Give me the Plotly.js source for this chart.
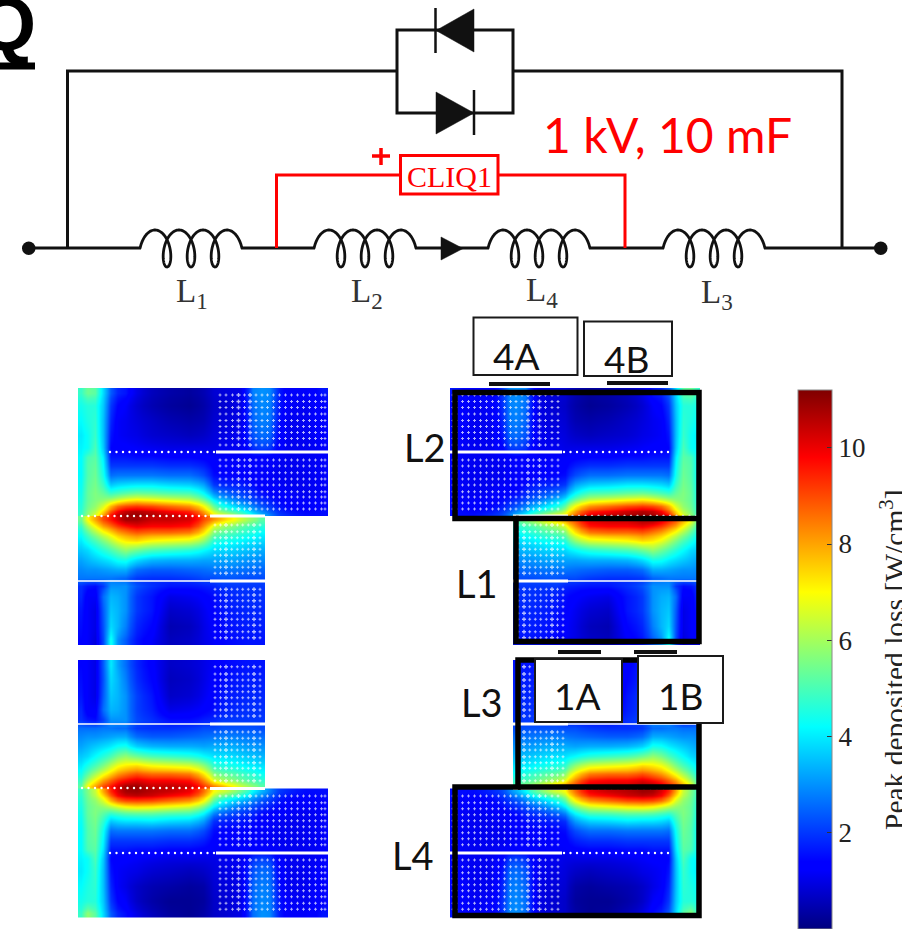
<!DOCTYPE html>
<html><head><meta charset="utf-8">
<script src="https://cdn.plot.ly/plotly-3.0.1.min.js"></script>
<style>html,body{margin:0;padding:0;background:#fff;overflow:hidden}#c{width:902px;height:929px}</style>
</head><body><div id="c"></div>
<script>
// ---- values (W/cm3) ----
const colsWide   = [81,87,95,103,110,117,125,135,150,170,190,205,213,222,244,252,262,270,275,285,305,326];
const colsNarrow = [81,87,95,103,110,117,125,135,150,170,190,205,213,222,232,248,264];
const rowsL2 = [391,405,420,435,449,456,465,475,485,493,500,506,511,514];
const rowsL1 = [520,526,532,540,550,560,570,578,585,595,610,625,643];
const rowsL3 = [662,680,695,710,720,728,736,746,756,766,774,780,786];
const rowsL4 = [792,795,800,806,813,820,830,840,850,856,871,886,901,915];

const heatL2 = [
[4.8,5.4,5.2,3.8,2.4,1.8,1.6,1.0,0.6,0.4,0.3,0.5,0.8,0.9,1.0,2.8,3.0,2.9,2.0,1.2,1.2,1.6],
[4.4,4.6,4.6,3.6,2.0,1.4,1.2,0.8,0.5,0.3,0.2,0.4,0.7,0.8,1.0,2.6,2.9,2.8,1.9,1.2,1.1,1.4],
[4.2,4.5,4.7,3.5,1.8,1.2,1.1,0.9,0.7,0.5,0.4,0.5,0.8,0.9,1.0,2.5,2.8,2.7,1.8,1.1,1.1,1.4],
[4.0,4.3,4.8,3.5,1.6,1.2,1.1,1.0,0.8,0.7,0.6,0.7,0.9,1.0,1.1,2.3,2.6,2.5,1.6,1.1,1.1,1.3],
[4.1,4.3,5.0,3.6,1.4,1.3,1.3,1.2,1.1,1.0,1.0,1.0,1.0,1.1,1.1,1.9,2.1,2.0,1.4,1.1,1.1,1.2],
[4.2,5.0,5.2,4.0,1.6,1.6,1.6,1.5,1.5,1.4,1.4,1.3,1.2,1.2,1.2,1.3,1.3,1.2,1.2,1.1,1.1,1.2],
[4.2,5.1,5.3,4.2,2.0,2.0,2.0,2.0,2.0,1.9,1.9,1.7,1.3,1.2,1.2,1.3,1.2,1.2,1.1,1.1,1.1,1.2],
[4.2,5.1,5.4,4.4,2.6,2.7,2.7,2.7,2.7,2.6,2.6,2.2,1.5,1.4,1.4,1.3,1.2,1.2,1.1,1.1,1.1,1.2],
[4.3,5.2,5.5,4.8,3.6,3.8,3.9,4.0,4.0,3.8,3.7,3.2,2.0,1.8,1.7,1.5,1.3,1.2,1.2,1.1,1.1,1.2],
[4.4,5.3,5.6,5.3,4.8,5.0,5.2,5.4,5.3,5.1,5.0,4.2,3.0,2.5,2.1,1.8,1.5,1.4,1.3,1.2,1.1,1.2],
[4.5,5.3,5.6,5.8,6.2,6.6,7.0,7.3,7.1,6.8,6.5,5.5,4.2,3.4,2.7,2.2,1.9,1.7,1.5,1.3,1.2,1.3],
[4.6,5.4,5.8,6.6,7.8,8.6,9.0,9.2,9.0,8.6,8.2,7.0,5.3,4.3,3.5,2.8,2.3,2.0,1.7,1.4,1.3,1.4],
[4.7,5.6,6.2,7.4,8.8,9.8,10.4,10.6,10.3,9.8,9.4,8.0,6.4,5.4,4.6,3.5,2.9,2.4,2.0,1.6,1.4,1.5],
[4.8,5.8,6.6,8.0,9.6,10.4,10.8,11.0,10.7,10.4,10.0,8.6,7.2,6.6,5.4,4.2,3.4,2.8,2.2,1.8,1.5,1.5]];

const heatL1 = [
[5.4,7.0,8.0,9.0,9.6,10.2,10.8,10.8,10.4,10.4,10.2,9.0,8.2,7.6,7.0,6.0,5.2],
[4.8,6.0,7.0,8.0,8.6,9.2,9.6,10.0,9.8,9.8,9.6,8.2,6.6,6.0,5.6,5.0,4.6],
[4.4,5.2,6.0,6.8,7.4,8.0,8.4,8.8,8.6,8.6,8.4,7.2,5.6,5.2,5.0,4.6,4.2],
[4.0,4.5,5.0,5.6,6.2,6.8,7.2,7.4,7.0,6.8,6.6,5.8,4.6,4.4,4.3,4.0,3.8],
[3.6,3.8,4.2,4.6,5.0,5.4,5.8,5.4,5.0,4.8,4.6,4.2,3.8,3.8,3.7,3.5,3.3],
[3.2,3.4,3.6,3.8,4.0,4.3,4.4,3.8,3.4,3.3,3.3,3.2,3.2,3.2,3.2,3.0,2.9],
[2.9,3.0,3.0,3.1,3.2,3.3,3.3,2.6,2.4,2.4,2.5,2.6,2.7,2.7,2.7,2.6,2.5],
[2.7,2.7,2.7,2.7,2.7,2.6,2.5,2.0,1.9,1.9,2.0,2.2,2.2,2.3,2.3,2.2,2.2],
[1.9,1.6,1.5,2.0,3.0,3.0,3.0,2.3,1.9,1.6,1.6,1.7,1.8,2.0,2.0,2.0,2.0],
[1.8,1.2,1.2,2.6,3.4,3.3,3.0,2.0,1.6,1.0,1.1,1.3,1.5,1.7,1.8,1.9,1.9],
[1.6,1.2,1.0,2.4,3.6,3.4,3.0,2.0,1.6,0.7,0.8,1.1,1.4,1.6,1.7,1.8,1.8],
[1.5,1.2,1.0,2.3,3.8,3.4,2.8,1.8,1.4,0.5,0.6,1.0,1.3,1.5,1.6,1.7,1.7],
[1.4,1.2,0.9,2.2,4.4,3.0,2.4,1.6,1.2,0.6,0.7,1.0,1.2,1.4,1.5,1.6,1.6]];

const heatL3 = [
[1.4,1.2,1.0,2.4,4.0,3.2,2.6,1.8,1.3,0.7,0.8,1.0,1.2,1.4,1.5,1.6,1.6],
[1.5,1.2,1.0,2.3,3.8,3.4,2.8,1.9,1.4,0.6,0.7,1.0,1.3,1.5,1.6,1.7,1.7],
[1.6,1.2,1.0,2.4,3.6,3.4,3.0,2.1,1.6,0.7,0.8,1.1,1.4,1.6,1.7,1.8,1.8],
[1.8,1.2,1.2,2.6,3.4,3.3,3.0,2.1,1.7,1.0,1.1,1.3,1.5,1.7,1.8,1.9,1.9],
[1.9,1.6,1.5,2.1,3.0,3.0,3.0,2.2,1.9,1.5,1.5,1.7,1.8,2.0,2.0,2.0,2.0],
[2.6,2.6,2.6,2.7,2.7,2.6,2.6,2.0,1.9,1.9,2.0,2.2,2.2,2.3,2.3,2.3,2.2],
[2.9,3.0,3.0,3.1,3.2,3.3,3.3,2.6,2.4,2.4,2.5,2.6,2.7,2.8,2.8,2.7,2.6],
[3.2,3.4,3.6,3.8,4.0,4.3,4.4,3.7,3.4,3.3,3.3,3.2,3.3,3.3,3.3,3.1,3.0],
[3.6,3.8,4.2,4.6,5.0,5.5,5.8,5.4,5.0,4.8,4.6,4.2,3.9,3.9,3.8,3.6,3.4],
[4.0,4.5,5.0,5.6,6.3,6.9,7.2,7.4,7.0,6.8,6.6,5.8,4.7,4.5,4.4,4.1,3.9],
[4.4,5.2,6.0,6.8,7.5,8.1,8.5,8.9,8.6,8.6,8.4,7.2,5.7,5.3,5.1,4.7,4.3],
[4.8,6.0,7.0,8.0,8.7,9.3,9.7,10.1,9.8,9.8,9.6,8.3,6.7,6.1,5.7,5.1,4.7],
[5.2,7.0,8.0,9.0,9.6,10.2,10.8,10.9,10.4,10.5,10.3,9.2,8.4,7.8,7.0,6.0,5.2]];

const heatL4 = [
[4.8,5.6,6.4,8.0,9.4,10.2,10.8,10.9,10.6,10.4,10.0,8.6,7.0,6.4,5.4,4.2,3.4,2.8,2.2,1.8,1.5,1.5],
[4.7,5.5,6.2,7.4,8.8,9.8,10.3,10.5,10.3,9.8,9.4,8.0,6.2,5.3,4.5,3.5,2.9,2.4,2.0,1.6,1.4,1.5],
[4.6,5.4,5.8,6.6,7.8,8.6,9.0,9.1,9.0,8.6,8.2,7.0,5.2,4.2,3.4,2.8,2.3,2.0,1.7,1.4,1.3,1.4],
[4.5,5.3,5.6,5.8,6.2,6.6,7.0,7.2,7.1,6.8,6.5,5.5,4.1,3.3,2.6,2.2,1.9,1.7,1.5,1.3,1.2,1.3],
[4.4,5.3,5.6,5.2,4.8,5.0,5.2,5.3,5.3,5.1,5.0,4.2,2.9,2.4,2.0,1.8,1.5,1.4,1.3,1.2,1.1,1.2],
[4.3,5.2,5.5,4.7,3.6,3.8,3.9,3.9,4.0,3.8,3.7,3.1,1.9,1.7,1.6,1.5,1.3,1.2,1.2,1.1,1.1,1.2],
[4.2,5.1,5.4,4.3,2.6,2.7,2.7,2.7,2.7,2.6,2.6,2.2,1.5,1.4,1.4,1.3,1.2,1.2,1.1,1.1,1.1,1.2],
[4.2,5.1,5.3,4.1,2.0,2.0,2.0,2.0,2.0,1.9,1.9,1.7,1.3,1.2,1.2,1.3,1.2,1.2,1.1,1.1,1.1,1.2],
[4.2,5.0,5.2,3.9,1.6,1.6,1.6,1.5,1.5,1.4,1.4,1.3,1.2,1.2,1.2,1.3,1.3,1.2,1.2,1.1,1.1,1.2],
[4.1,4.3,5.0,3.6,1.4,1.3,1.3,1.2,1.1,1.0,1.0,1.0,1.0,1.1,1.1,1.9,2.1,2.0,1.4,1.1,1.1,1.2],
[4.0,4.3,4.8,3.5,1.6,1.2,1.1,1.0,0.8,0.7,0.6,0.7,0.9,1.0,1.1,2.3,2.6,2.5,1.6,1.1,1.1,1.3],
[4.2,4.5,4.7,3.5,1.8,1.2,1.0,0.7,0.5,0.4,0.3,0.4,0.8,0.9,1.0,2.5,2.8,2.7,1.8,1.1,1.1,1.4],
[4.4,4.6,4.6,3.6,2.0,1.4,1.2,0.7,0.4,0.2,0.2,0.3,0.7,0.8,1.0,2.6,2.9,2.8,1.9,1.2,1.1,1.4],
[4.8,5.8,5.2,3.8,2.4,1.8,1.5,1.0,0.6,0.3,0.2,0.4,0.7,0.8,1.0,2.6,3.0,2.9,2.0,1.2,1.2,1.6]];

const colorTicks = [2,4,6,8,10];
const colorTop = 11.2;
const jetStops = [[0,'#00007f'],[0.11,'#0000ff'],[0.125,'#0000ff'],[0.375,'#00ffff'],[0.625,'#ffff00'],[0.875,'#ff0000'],[1,'#7f0000']];

// ---- layout of the composite figure (page pixels) ----
const MIRROR = 778;  // the right column is the left column reflected
const blocks = [
 {x:colsWide,  xEnd:[78,328], y:rowsL2, yEnd:[388,516], z:heatL2},
 {x:colsNarrow,xEnd:[78,265], y:rowsL1, yEnd:[516,645], z:heatL1},
 {x:colsNarrow,xEnd:[78,265], y:rowsL3, yEnd:[660,788.5], z:heatL3},
 {x:colsWide,  xEnd:[78,328], y:rowsL4, yEnd:[788.5,917], z:heatL4}];
const dotColsWide = [220,226,232.5,238.5,244.5,250,256,262,267.5,273.5,279.5,285.5,291.5,297.5,303.5,309.5,315.5,321.5,325];
const dotColsNarrow = [215,220.5,226,231.7,237.3,242.7,248.3,254,260];
const dotBlocks = [
 {x:dotColsWide,  big:[238.5,250], y:[395,401.5,407.5,414,420.5,426.5,432.5,438.5,445,460,466,472.7,479,485,491.7,497,503,509]},
 {x:dotColsNarrow,big:[226,254],   y:[525,531.7,537.7,543.3,549.3,555.3,561.3,567.3,573.3,589.3,595,600.7,606.7,613.3,619.3,625.3,631.7,637.7]},
 {x:dotColsNarrow,big:[226,254],   y:[666.7,674,680,686,691.7,697.7,704,710,716,732,738.3,744.3,750,756.7,762.7,768.3,775,780.7]},
 {x:dotColsWide,  big:[238.5,250], y:[796,802.7,808.7,814.7,820.7,826.7,832.7,838.7,844.7,860,866.7,872.7,878.7,884.7,890.7,896.7,903.3,909.3]}];
const seamThin = [[452,110,215,2.4],[516,82,210,2.4],[788,82,210,2.4],[853,110,215,2.4]];

function bounds(c,e){const b=[e[0]];for(let i=0;i<c.length-1;i++)b.push((c[i]+c[i+1])/2);b.push(e[1]);return b;}
const traces=[];
function addHeat(b,mirror){
  let x=bounds(b.x,b.xEnd), z=b.z;
  if(mirror){x=x.map(v=>MIRROR-v).reverse(); z=z.map(r=>r.slice().reverse());}
  traces.push({type:'heatmap',x:x,y:bounds(b.y,b.yEnd),z:z,coloraxis:'coloraxis',zsmooth:'best',hoverinfo:'skip'});
}
function addDots(d,mirror){
  const xs=[],ys=[],ss=[];
  d.y.forEach(y=>d.x.forEach(x=>{xs.push(mirror?MIRROR-x:x);ys.push(y);ss.push(d.big.includes(x)?3.4:2.4);}));
  traces.push({type:'scatter',mode:'markers',x:xs,y:ys,marker:{symbol:'cross',color:'#fff',size:ss,line:{width:0}},hoverinfo:'skip',showlegend:false});
}
[false,true].forEach(m=>{blocks.forEach(b=>addHeat(b,m));dotBlocks.forEach(d=>addDots(d,m));});
[false,true].forEach(m=>seamThin.forEach(s=>{
  const xs=[];for(let x=s[1];x<=s[2];x+=6.5)xs.push(m?MIRROR-x:x);
  traces.push({type:'scatter',mode:'markers',x:xs,y:xs.map(()=>s[0]),marker:{color:'#fff',size:s[3],line:{width:0}},hoverinfo:'skip',showlegend:false});
}));

const shapes=[];
function line(x0,y0,x1,y1,c,w){shapes.push({type:'line',xref:'x',yref:'y',x0,y0,x1,y1,line:{color:c,width:w}});}
function path(p,c,w,fill){shapes.push({type:'path',xref:'x',yref:'y',path:p,line:{color:c,width:w},fillcolor:fill||'rgba(0,0,0,0)'});}
function rect(x0,y0,x1,y1,c,w,fill){shapes.push({type:'rect',xref:'x',yref:'y',x0,y0,x1,y1,line:{color:c,width:w},fillcolor:fill||'rgba(0,0,0,0)'});}

// white seams in the coil blocks
[false,true].forEach(m=>{
  const X=v=>m?MIRROR-v:v;
  line(X(216),452,X(328),452,'#fff',3);
  line(X(210),516,X(265),516,'#fff',3);
  line(X(78),581,X(210),581,'#fff',1.3);
  line(X(210),581,X(265),581,'#fff',3);
  line(X(78),724,X(210),724,'#fff',1.3);
  line(X(210),724,X(265),724,'#fff',3);
  line(X(210),788.5,X(265),788.5,'#fff',3);
  line(X(216),853,X(328),853,'#fff',3);
});
// black coil frames
const FW=5.5;
path('M455,392.5 H699 V641.5 H516 V518.5 H455 Z','#000',FW);
line(516,518.5,699,518.5,'#000',FW);
path('M518,660 H699 V915.5 H455 V787 H518 Z','#000',FW);
line(518,787,699,787,'#000',FW);
// label boxes
rect(473.5,317.5,577.5,375,'#1a1a1a',2,'#fff');
rect(584,321.5,672,376,'#1a1a1a',2,'#fff');
line(489,384,550,384,'#111',4);
line(607,383,668,383,'#111',4);
line(558,652,601,652,'#111',4);
line(634,652,677,652,'#111',4);
rect(535,659,622,722,'#1a1a1a',2,'#fff');
rect(638,656,723,723,'#1a1a1a',2,'#fff');
// colourbar left ticks
colorTicks.forEach(v=>{const y=929-v*48.1;line(798,y,803,y,'#333',1);});

// circuit
const BK='#111', RD='#ff0000';
function coil(x0){
  const c=24/(2*Math.PI), d=9, n=90, t0=-1.5*Math.PI, t1=4*Math.PI+1.5*Math.PI;
  let p='';
  for(let i=0;i<=n*4;i++){
    const t=t0+(t1-t0)*i/(n*4);
    p+=(i?' L':'M')+(x0+27+c*t-d*Math.sin(t)).toFixed(2)+','+(248.5+18.5*Math.cos(t)).toFixed(2);
  }
  path(p,BK,2.8);
}
[140,314,488,663].forEach(coil);
line(28,248,141,248,BK,3);
line(241,248,315,248,BK,3);
line(415,248,489,248,BK,3);
line(589,248,664,248,BK,3);
line(764,248,881,248,BK,3);
path('M67.5,248 V71 H397 M513,71 H842 V248',BK,3);
path('M436,30 H397 V113 H474 M436,30 H513 V113 H474',BK,3);
path('M474,9 L436,30.5 L474,52 Z',BK,0.5,BK);
line(435.5,8,435.5,53,BK,2.5);
path('M436,92 L474,113 L436,134 Z',BK,0.5,BK);
line(474,90,474,135,BK,2.5);
path('M441,237 L463,248.5 L441,260 Z',BK,0.5,BK);
shapes.push({type:'circle',xref:'x',yref:'y',x0:22,y0:241.5,x1:35.5,y1:255,fillcolor:BK,line:{width:0}});
shapes.push({type:'circle',xref:'x',yref:'y',x0:874,y0:241.5,x1:887.5,y1:255,fillcolor:BK,line:{width:0}});
path('M276.5,248 V175 H400 M498,175 H625 V248',RD,3);
rect(400.5,155.5,498,194,RD,3,'#fff');
line(372,156,390,156,RD,3.5);
line(381,148,381,165,RD,3.5);
line(0,66,35,66,'#000',7);

function note(text,x,y,size,font,color,extra){
  return Object.assign({text,x,y,xref:'x',yref:'y',showarrow:false,xanchor:'center',yanchor:'middle',font:{size,family:font,color}},extra||{});
}
const SANS='Lato', SERIF='Liberation Serif';
const annotations=[
 note('<b>Q</b>',6,23,76,'Liberation Sans','#000',{}),
 note('1 kV, 10 mF',667,134,48,SANS,RD),
 note('CLIQ1',449,176,30,SERIF,RD),
 note('L<sub>1</sub>',192,293,33,SERIF,'#333'),
 note('L<sub>2</sub>',367,293,33,SERIF,'#333'),
 note('L<sub>4</sub>',542,292,33,SERIF,'#333'),
 note('L<sub>3</sub>',717,294,33,SERIF,'#333'),
 note('4A',516,355,37,SANS,'#111'),
 note('4B',626,358,37,SANS,'#111'),
 note('1A',577,695,37,SANS,'#111'),
 note('1B',680,695,37,SANS,'#111'),
 note('L2',425,447,38,SANS,'#111'),
 note('L1',477,583,38,SANS,'#111'),
 note('L3',482,702,38,SANS,'#111'),
 note('L4',413,855,38,SANS,'#111'),
 note('Peak deposited loss [W/cm<sup>3</sup>]',893,660,29.5,SERIF,'#222',{textangle:-90})
];

const layout={
 width:902,height:929,margin:{l:0,r:0,t:0,b:0,autoexpand:false},
 paper_bgcolor:'#fff',plot_bgcolor:'#fff',showlegend:false,
 xaxis:{range:[0,902],visible:false,fixedrange:true},
 yaxis:{range:[929,0],visible:false,fixedrange:true},
 coloraxis:{cmin:0,cmax:colorTop,colorscale:jetStops,colorbar:{
   x:798/902,xanchor:'left',xpad:0,y:1-390/929,yanchor:'top',ypad:0,
   len:539,lenmode:'pixels',thickness:34,thicknessmode:'pixels',
   tickvals:colorTicks,ticktext:colorTicks.map(String),ticks:'inside',ticklen:5,tickcolor:'#333',tickwidth:1,
   tickfont:{family:SERIF,size:27,color:'#222'},outlinecolor:'#888',outlinewidth:1,borderwidth:0}},
 shapes,annotations
};
Plotly.newPlot('c',traces,layout,{displayModeBar:false,staticPlot:true});
</script></body></html>
